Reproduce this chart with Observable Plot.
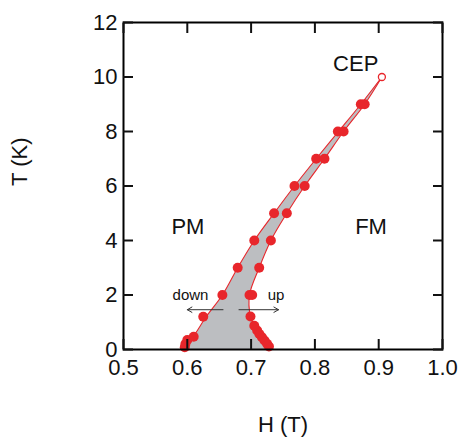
<!DOCTYPE html>
<html><head><meta charset="utf-8">
<script src="https://cdn.jsdelivr.net/npm/d3@7"></script>
<script src="https://cdn.jsdelivr.net/npm/@observablehq/plot@0.6"></script>
<style>body{margin:0;background:#fff;}</style>
</head><body><div id="chart"></div>
<script>
// Measured points, field-down sweep (H in tesla, T in kelvin)
const downH = [0.596, 0.597, 0.600, 0.610, 0.625, 0.655, 0.679, 0.705, 0.736, 0.768, 0.802, 0.836, 0.872];
const downT = [0.08, 0.20, 0.35, 0.47, 1.20, 2.00, 3.00, 4.00, 5.00, 6.00, 7.00, 8.00, 9.00];
// Measured points, field-up sweep
const upH = [0.728, 0.725, 0.721, 0.717, 0.713, 0.7095, 0.705, 0.699, 0.6975, 0.7017, 0.7127, 0.731, 0.756, 0.784, 0.815, 0.845, 0.878];
const upT = [0.11, 0.21, 0.33, 0.45, 0.57, 0.70, 0.87, 1.21, 2.00, 2.00, 3.00, 4.00, 5.00, 6.00, 7.00, 8.00, 9.00];
// Critical end point
const cepH = [0.905];
const cepT = [10.0];
// Phase boundary guide curves
const leftLineH = [0.595, 0.598, 0.609, 0.6295, 0.655, 0.679, 0.705, 0.736, 0.768, 0.802, 0.837, 0.872, 0.905];
const leftLineT = [0, 0.20, 0.47, 1.20, 2.00, 3.00, 4.00, 5.00, 6.00, 7.00, 8.00, 9.00, 10.0];
const rightLineH = [0.729, 0.725, 0.717, 0.7095, 0.705, 0.699, 0.6975, 0.7127, 0.731, 0.756, 0.784, 0.815, 0.845, 0.878, 0.905];
const rightLineT = [0, 0.21, 0.45, 0.70, 0.87, 1.21, 2.00, 3.00, 4.00, 5.00, 6.00, 7.00, 8.00, 9.00, 10.0];
// Annotations
const phaseLabels = ["PM", "FM", "CEP"];
const phaseLabelH = [0.601, 0.888, 0.864];
const phaseLabelT = [4.48, 4.48, 10.49];
const sweepLabels = ["down", "up"];
const sweepLabelH = [0.605, 0.739];
const sweepLabelT = [1.98, 1.98];
const arrowFromH = [0.656, 0.681];
const arrowToH = [0.600, 0.743];
const arrowT = [1.46, 1.46];
// Axis ticks
const xTicks = [0.5, 0.6, 0.7, 0.8, 0.9, 1.0];
const yTicks = [0, 2, 4, 6, 8, 10, 12];

const zip = (H, T) => H.map((h, i) => ({H: h, T: T[i]}));
const downPts = zip(downH, downT);
const upPts = zip(upH, upT);
const cep = zip(cepH, cepT);
const leftLine = zip(leftLineH, leftLineT);
const rightLine = zip(rightLineH, rightLineT);
const poly = leftLine.concat(rightLine.slice(0, -1).reverse());
const labels = phaseLabels.map((t, i) => ({text: t, H: phaseLabelH[i], T: phaseLabelT[i]}));
const sweeps = sweepLabels.map((t, i) => ({text: t, H: sweepLabelH[i], T: sweepLabelT[i]}));
const arrows = arrowFromH.map((h, i) => ({h1: h, h2: arrowToH[i], T: arrowT[i]}));

const red = "#e8262b";
const font = "'Liberation Sans', Arial, Helvetica, sans-serif";

const chart = Plot.plot({
  width: 463, height: 441,
  marginLeft: 123, marginRight: 21, marginTop: 22, marginBottom: 92,
  style: {fontFamily: font, fontSize: "22px", color: "#111", background: "#fff"},
  x: {domain: [0.5, 1.0]},
  y: {domain: [0, 12]},
  marks: [
    Plot.line(poly, {x: "H", y: "T", fill: "#bcbec1", stroke: "none", curve: "catmull-rom"}),
    Plot.line(leftLine, {x: "H", y: "T", stroke: red, strokeWidth: 1.1, curve: "catmull-rom"}),
    Plot.line(rightLine, {x: "H", y: "T", stroke: red, strokeWidth: 1.1, curve: "catmull-rom"}),
    Plot.dot(downPts, {x: "H", y: "T", r: 5, fill: red, stroke: null}),
    Plot.dot(upPts, {x: "H", y: "T", r: 5, fill: red, stroke: null}),
    Plot.dot(cep, {x: "H", y: "T", r: 3.5, fill: "white", stroke: red, strokeWidth: 1.3}),
    Plot.arrow(arrows, {x1: "h1", x2: "h2", y1: "T", y2: "T", stroke: "#333", strokeWidth: 1, headLength: 8}),
    Plot.text(labels, {x: "H", y: "T", text: "text", fontSize: 22, fill: "#111"}),
    Plot.text(sweeps, {x: "H", y: "T", text: "text", fontSize: 15, fill: "#111"}),
    Plot.frame({stroke: "#000", strokeWidth: 2}),
    Plot.axisX({anchor: "bottom", ticks: xTicks, tickSize: -10, tickPadding: 20, strokeWidth: 2, tickFormat: d => d.toFixed(1), label: null, fontSize: 22}),
    Plot.axisX({anchor: "top", ticks: xTicks, tickSize: -10, strokeWidth: 2, tickFormat: () => "", label: null}),
    Plot.axisY({anchor: "left", ticks: yTicks, tickSize: -10, tickPadding: 16, strokeWidth: 2, tickFormat: d => String(d), label: null, fontSize: 22}),
    Plot.axisY({anchor: "right", ticks: yTicks, tickSize: -10, strokeWidth: 2, tickFormat: () => "", label: null}),
    Plot.text(["T (K)"], {frameAnchor: "left", dx: -104, rotate: -90, fontSize: 22, fill: "#111"}),
    Plot.text(["H (T)"], {frameAnchor: "bottom", dy: 82, fontSize: 22, fill: "#111"})
  ]
});
document.getElementById("chart").appendChild(chart);
</script>
</body></html>
